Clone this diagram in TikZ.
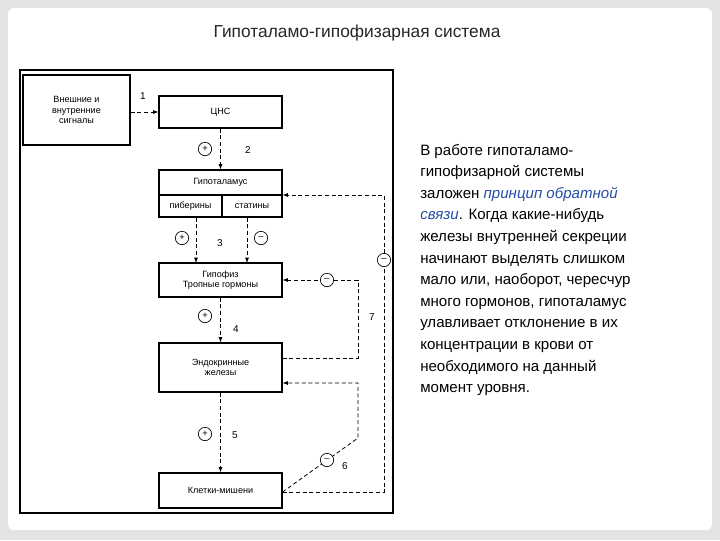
\documentclass[tikz,border=0pt]{standalone}
\usepackage{fontspec}
\setmainfont{Liberation Sans}
\usetikzlibrary{arrows.meta}
\begin{document}
\begin{tikzpicture}[x=0.75pt,y=-0.75pt,
  box/.style={draw,line width=0.8pt,font=\fontsize{6.8}{8}\selectfont,align=center,inner sep=0},
  fb/.style={densely dashed,line width=0.6pt},
  arr/.style={fb,-{Latex[length=4pt,width=3pt]}},
  sg/.style={circle,draw,line width=0.5pt,minimum size=10pt,inner sep=0,font=\fontsize{7}{7}\selectfont,fill=white},
  num/.style={font=\fontsize{7.5}{8}\selectfont},
  tl/.style={anchor=base west,inner sep=0,font=\fontsize{11.3}{13}\selectfont}]
\useasboundingbox (0,0) rectangle (720,540);
\fill[gray!22] (0,0) rectangle (720,540);
\fill[white,rounded corners=4pt] (8,8) rectangle (712,530);
\node[font=\fontsize{13}{15}\selectfont,text=black!85] (title) at (357,33) {Гипоталамо-гипофизарная система};
\draw[line width=0.8pt] (20,70) rectangle (393,513);
\node[box,minimum width=80.25pt,minimum height=52.5pt] (sig) at (76.5,110) {Внешние и\\внутренние\\сигналы};
\node[box,minimum width=92.25pt,minimum height=24pt] (cns) at (220.5,112) {ЦНС};
\node[box,minimum width=92.25pt,minimum height=18.75pt] (hyp) at (220.5,182.5) {Гипоталамус};
\node[box,minimum width=47.25pt,minimum height=16.5pt] (lib) at (190.5,206) {пиберины};
\node[box,minimum width=45pt,minimum height=16.5pt] (stat) at (252,206) {статины};
\node[box,minimum width=92.25pt,minimum height=25.5pt] (hph) at (220.5,280) {Гипофиз\\Тропные гормоны};
\node[box,minimum width=92.25pt,minimum height=36.75pt] (end) at (220.5,367.5) {Эндокринные\\железы};
\node[box,minimum width=92.25pt,minimum height=26.25pt] (tgt) at (220.5,490.5) {Клетки-мишени};
\draw[arr] (sig.east |- cns.west) -- (cns.west);
\draw[arr] (cns.south) -- (hyp.north);
\draw[arr] (lib.south -| 196,0) -- (196,263);
\draw[arr] (stat.south -| 247,0) -- (247,263);
\draw[arr] (hph.south) -- (end.north);
\draw[arr] (end.south) -- (tgt.north);
\coordinate (a1) at (384,492); \coordinate (a2) at (384,195);
\draw[arr] (tgt.east |- a1) -- (a1) -- (a2) -- (hyp.east |- a2);
\coordinate (b1) at (358,358); \coordinate (b2) at (358,280);
\draw[arr] (end.east |- b1) -- (b1) -- (b2) -- (hph.east);
\coordinate (c1) at (358,438); \coordinate (c2) at (358,383);
\draw[arr] (tgt.east |- a1) -- (c1) -- (c2) -- (end.east |- c2);
\node[sg] (p1) at (205,149) {+};
\node[sg] (p2) at (182,238) {+};
\node[sg] (m1) at (261,238) {--};
\node[sg] (p3) at (205,316) {+};
\node[sg] (p4) at (205,434) {+};
\node[sg] (m2) at (384,260) {--};
\node[sg] (m3) at (327,280) {--};
\node[sg] (m4) at (327,460) {--};
\node[num] (n1) at (143,96) {1};
\node[num] (n2) at (248,150) {2};
\node[num] (n3) at (220,243) {3};
\node[num] (n4) at (236,329) {4};
\node[num] (n5) at (235,435) {5};
\node[num] (n6) at (345,466) {6};
\node[num] (n7) at (372,317) {7};
\node[tl] (t1) at (420,155) {В работе гипоталамо-};
\node[tl] (t2) at (420,176.6) {гипофизарной системы};
\node[tl] (t3) at (420,198.2) {заложен \textcolor[rgb]{0.15,0.3,0.65}{\itshape принцип обратной}};
\node[tl] (t4) at (420,219.8) {\textcolor[rgb]{0.15,0.3,0.65}{\itshape связи}. Когда какие-нибудь};
\node[tl] (t5) at (420,241.4) {железы внутренней секреции};
\node[tl] (t6) at (420,263) {начинают выделять слишком};
\node[tl] (t7) at (420,284.6) {мало или, наоборот, чересчур};
\node[tl] (t8) at (420,306.2) {много гормонов, гипоталамус};
\node[tl] (t9) at (420,327.8) {улавливает отклонение в их};
\node[tl] (t10) at (420,349.4) {концентрации в крови от};
\node[tl] (t11) at (420,371) {необходимого на данный};
\node[tl] (t12) at (420,392.6) {момент уровня.};
\end{tikzpicture}
\end{document}
